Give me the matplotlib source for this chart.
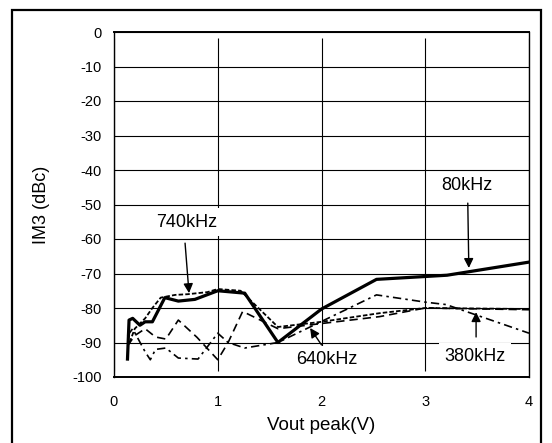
import matplotlib
matplotlib.use("Agg")
import matplotlib.pyplot as plt
from matplotlib.patches import Rectangle

plt.rcParams['font.family'] = ['Liberation Sans', 'DejaVu Sans']

# ---- data ----
x_80k = [0.13, 0.145, 0.18, 0.25, 0.30, 0.37, 0.49, 0.62, 0.78, 1.0, 1.26, 1.58, 2.0, 2.53, 3.21, 4.0]
y_80k = [-94.8, -83.5, -83.0, -85.0, -84.0, -84.0, -77.0, -78.0, -77.5, -75.0, -75.7, -90.0, -80.3, -71.7, -70.5, -66.7]

x_740k = [0.15, 0.20, 0.30, 0.37, 0.45, 0.59, 0.71, 0.90, 1.0, 1.22, 1.58, 2.0, 2.56, 3.0, 4.0]
y_740k = [-90.0, -86.0, -83.0, -80.0, -77.0, -76.2, -76.0, -75.4, -74.5, -75.0, -85.5, -84.0, -81.5, -80.0, -80.3]

x_640k = [0.13, 0.20, 0.30, 0.40, 0.50, 0.62, 0.80, 1.0, 1.10, 1.24, 1.58, 2.0, 2.56, 3.0, 4.0]
y_640k = [-91.0, -88.0, -86.0, -88.4, -89.0, -83.5, -88.5, -95.0, -90.0, -81.0, -86.0, -84.5, -82.5, -80.0, -80.5]

x_380k = [0.13, 0.18, 0.30, 0.35, 0.40, 0.50, 0.62, 0.81, 1.0, 1.10, 1.26, 1.58, 2.53, 3.0, 3.2, 4.0]
y_380k = [-88.0, -86.0, -92.7, -95.0, -92.0, -91.6, -94.5, -94.8, -87.3, -90.0, -91.6, -90.0, -76.2, -78.3, -79.0, -87.3]

x_ticks = [0, 1, 2, 3, 4]
y_ticks = [0, -10, -20, -30, -40, -50, -60, -70, -80, -90, -100]

labels = ["80kHz", "740kHz", "640kHz", "380kHz"]
label_pos = [(3.40, -44.6), (0.70, -55.1), (2.05, -95.0), (3.48, -94.2)]
arrow_from = [(3.41, -49.6), (0.685, -61.2), (2.00, -90.7), (3.49, -88.4)]
arrow_to = [(3.42, -68.4), (0.723, -75.7), (1.89, -85.8), (3.49, -81.2)]

# ---- figure ----
fig = plt.figure(figsize=(5.52, 4.43), dpi=100)
ax = fig.add_axes([114/552, 1-377/443, 415/552, 345/443])

ax.set_xlim(0, 4)
ax.set_ylim(-100, 0)
ax.set_xticks(x_ticks)
ax.set_yticks(y_ticks)
ax.set_xticklabels([str(v) for v in x_ticks])
ax.set_yticklabels([str(v) for v in y_ticks])

ax.grid(True, color='black', linewidth=0.8)
ax.set_axisbelow(True)

for s in ['top', 'bottom']:
    ax.spines[s].set_linewidth(1.4)
for s in ['left', 'right']:
    ax.spines[s].set_linewidth(1.0)

# white tick marks give the gaps in the frame lines
ax.tick_params(axis='x', which='major', direction='inout', length=8, width=2.5,
               color='white', top=True, bottom=True, labelsize=10.5, pad=9)
ax.tick_params(axis='y', which='major', length=0, labelsize=10.5, pad=9)

ax.plot(x_80k, y_80k, color='black', linewidth=2.3, solid_joinstyle='round', zorder=5)
ax.plot(x_740k, y_740k, color='black', linewidth=1.3, dashes=(2.5, 1.2), zorder=4)
ax.plot(x_640k, y_640k, color='black', linewidth=1.2, dashes=(5, 3), zorder=4)
ax.plot(x_380k, y_380k, color='black', linewidth=1.2, dashes=(5, 2.5, 1.5, 2.5), zorder=4)

for lab, pos, a0, a1 in zip(labels, label_pos, arrow_from, arrow_to):
    ax.text(pos[0], pos[1], lab, ha='center', va='center', fontsize=13,
            bbox=dict(boxstyle='square,pad=0.3', facecolor='white', edgecolor='none'),
            zorder=6)
    ax.annotate('', xy=a1, xytext=a0,
                arrowprops=dict(arrowstyle='-|>', color='black', lw=1.0,
                                mutation_scale=14, shrinkA=0, shrinkB=0),
                zorder=7)

ax.set_xlabel("Vout peak(V)", fontsize=13.5)
ax.xaxis.label.set_va('center')
ax.xaxis.set_label_coords(0.5, -0.142)
ax.set_ylabel("IM3 (dBc)", fontsize=13)
ax.yaxis.label.set_va('center')
ax.yaxis.set_label_coords(-0.1735, 0.4986)

# outer chart border
fig.patches.append(Rectangle((12/552, -0.02), (541-12)/552, 1.02-10/443,
                             transform=fig.transFigure, fill=False,
                             edgecolor='black', linewidth=1.6))

fig.savefig("out.png", dpi=100)
